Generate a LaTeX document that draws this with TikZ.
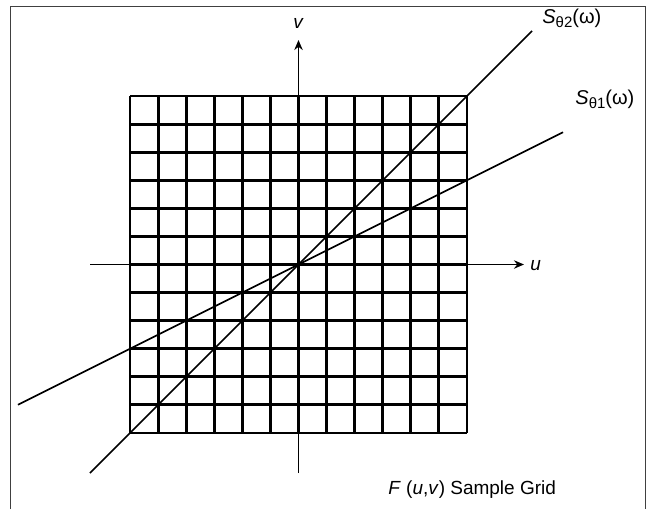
\documentclass[tikz,border=0pt]{standalone}
\usepackage{fontspec}
\setmainfont{Liberation Sans}
\usetikzlibrary{arrows.meta}
\begin{document}
\begin{tikzpicture}[x=0.5pt,y=-0.5pt,
  frameline/.style={line width=0.45pt, draw=black!75},
  gridline/.style={line width=1.45pt, draw=black},
  axisline/.style={line width=0.95pt, draw=black, -{Stealth[length=5pt,width=4.2pt]}},
  sampleline/.style={line width=0.8pt, draw=black},
  lab/.style={font=\fontsize{9.5}{11}\selectfont, inner sep=0pt},
  slab/.style={font=\fontsize{10}{12}\selectfont, inner sep=0pt, anchor=west},
  sub/.style={}]
\useasboundingbox (0,0) rectangle (647,509);
% frame
\coordinate (fbl) at (10,509);
\coordinate (ftl) at (10,6);
\coordinate (ftr) at (645,6);
\coordinate (fbr) at (645,509);
\draw[frameline] (fbl) -- (ftl) -- (ftr) -- (fbr);
% sample grid
\foreach \i in {0,...,12} {
  \draw[gridline] ({130+\i*28.08},96) -- ({130+\i*28.08},433);
  \draw[gridline] (130,{96+\i*28.08}) -- (467,{96+\i*28.08});
}
% axes
\coordinate (O) at (298.5,264.5);
\coordinate (vbot) at (298.5,473);
\coordinate (vtop) at (298.5,40);
\coordinate (uleft) at (90,264.5);
\coordinate (uright) at (524,264.5);
\draw[axisline] (vbot) -- (vtop);
\draw[axisline] (uleft) -- (uright);
\node[lab] (vlab) at (298.5,23) {\textit{v}};
\node[lab, anchor=west] (ulab) at (530,266) {\textit{u}};
% sampling lines
\coordinate (t2a) at (90,473);
\coordinate (t2b) at (532,31);
\coordinate (t1a) at (18,404.75);
\coordinate (t1b) at (563,132.25);
\draw[sampleline] (t2a) -- (O) -- (t2b);
\draw[sampleline] (t1a) -- (O) -- (t1b);
\node[slab] (s2lab) at (542,18) {\textit{S}\raisebox{-0.4ex}{\fontsize{7.5}{8}\selectfont θ2}(ω)};
\node[slab] (s1lab) at (575,99) {\textit{S}\raisebox{-0.4ex}{\fontsize{7.5}{8}\selectfont θ1}(ω)};
\node[lab, anchor=west] (flab) at (388,490) {\textit{F} (\textit{u},\textit{v}) Sample Grid};
\end{tikzpicture}
\end{document}
